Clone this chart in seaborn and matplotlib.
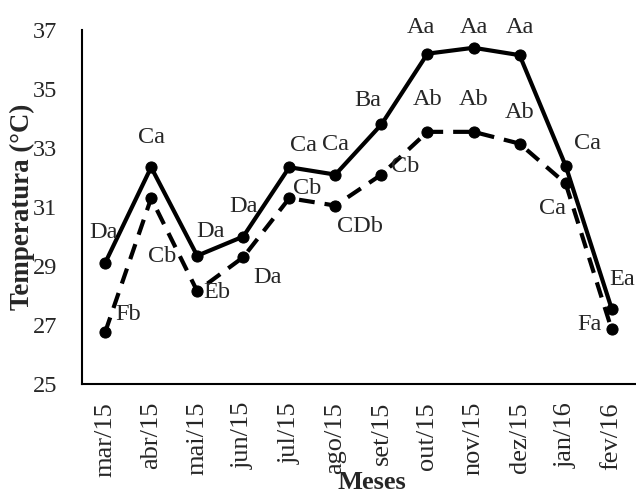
#!/usr/bin/env python3

import pandas as pd
import seaborn as sns
from matplotlib import pyplot as plt

# Data
meses = ['mar/15', 'abr/15', 'mai/15', 'jun/15', 'jul/15', 'ago/15',
         'set/15', 'out/15', 'nov/15', 'dez/15', 'jan/16', 'fev/16']
temp_solid = [29.1, 32.35, 29.35, 30.0, 32.35, 32.1,
              33.8, 36.2, 36.4, 36.15, 32.4, 27.55]
temp_dashed = [26.75, 31.3, 28.15, 29.3, 31.3, 31.05,
               32.1, 33.55, 33.55, 33.15, 31.8, 26.85]
labels_solid = ['Da', 'Ca', 'Da', 'Da', 'Ca', 'Ca',
                'Ba', 'Aa', 'Aa', 'Aa', 'Ca', 'Ea']
labels_dashed = ['Fb', 'Cb', 'Eb', 'Da', 'Cb', 'CDb',
                 'Cb', 'Ab', 'Ab', 'Ab', 'Ca', 'Fa']

# label offsets (pixels) relative to each point
off_solid = [(-2, 31), (0, 30), (13, 24), (0, 30), (14, 22), (0, 30),
             (-14, 24), (-7, 26), (0, 20), (0, 28), (22, 22), (10, 29)]
off_dashed = [(23, 18), (11, -58), (20, -1), (24, -20), (18, 10), (25, -21),
              (24, 8), (0, 32), (0, 32), (0, 31), (-13, -25), (-22, 5)]


def main():
    sns.set_style('white')
    plt.rcParams['font.family'] = ['Liberation Serif', 'DejaVu Serif']
    fs = 17.5

    df = pd.DataFrame({'mes': meses, 'solid': temp_solid, 'dashed': temp_dashed})

    fig = plt.figure(figsize=(6.36, 4.93), dpi=100)
    ax = fig.add_axes([0.129, 0.221, 0.869, 0.718])

    sns.lineplot(data=df, x='mes', y='solid', ax=ax, color='black',
                 linewidth=3, marker='o', markersize=8, markeredgecolor='black')
    sns.lineplot(data=df, x='mes', y='dashed', ax=ax, color='black',
                 linewidth=3, marker='o', markersize=8, markeredgecolor='black',
                 linestyle=(0, (3.8, 2.4)))

    for i in range(len(meses)):
        ax.annotate(labels_solid[i], (i, temp_solid[i]), xytext=off_solid[i],
                    textcoords='offset pixels', ha='center', va='center',
                    fontsize=fs)
        ax.annotate(labels_dashed[i], (i, temp_dashed[i]), xytext=off_dashed[i],
                    textcoords='offset pixels', ha='center', va='center',
                    fontsize=fs)

    ax.set_xlim(-0.5, 11.5)
    ax.set_ylim(25, 37)
    ax.set_yticks([25, 27, 29, 31, 33, 35, 37])
    ax.set_xticks(range(len(meses)))
    ax.set_xticklabels(meses, rotation=90, fontsize=19)
    ax.tick_params(axis='y', labelsize=fs, length=0, pad=18)
    ax.tick_params(axis='x', length=0, pad=13)
    sns.despine(ax=ax)
    for s in ['left', 'bottom']:
        ax.spines[s].set_color('black')
        ax.spines[s].set_linewidth(1.5)

    ax.set_xlabel('')
    ax.set_ylabel('')
    fig.text(0.585, 0.021, 'Meses', ha='center', va='center',
             fontsize=19, fontweight='bold')
    fig.text(0.036, 0.58, 'Temperatura (°C)', ha='center', va='center',
             rotation=90, fontsize=19.4, fontweight='bold')

    fig.savefig('out.png', dpi=100)


if __name__ == "__main__":
    main()
